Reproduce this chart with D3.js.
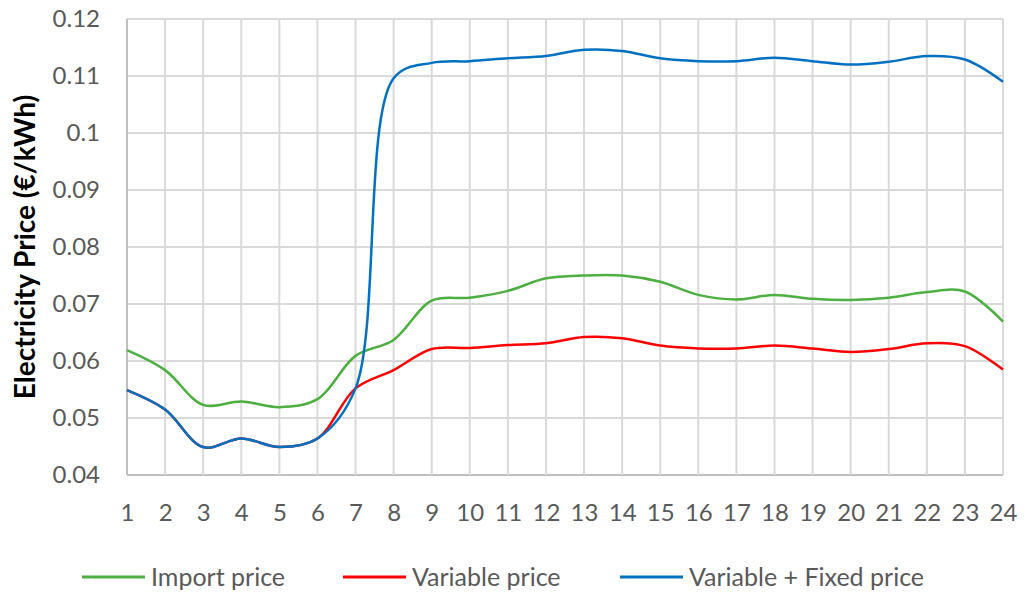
<!DOCTYPE html>
<html>
<head>
<meta charset="utf-8">
<script src="https://cdn.jsdelivr.net/npm/d3@7"></script>
<style>
  body { margin: 0; background: #fff; }
  text { font-family: Lato, "Open Sans", sans-serif; }
</style>
</head>
<body>
<svg id="chart" width="1024" height="603"></svg>
<script>
// hours of the day
const hours = d3.range(1, 25);
const yTicks = [0.04, 0.05, 0.06, 0.07, 0.08, 0.09, 0.1, 0.11, 0.12];

// prices in €/kWh
const importPrice = [0.0619, 0.0584, 0.0523, 0.0529, 0.0519, 0.0533, 0.0609, 0.0637, 0.0706, 0.0711,
    0.0723, 0.0745, 0.0750, 0.0750, 0.0739, 0.0716, 0.0708, 0.0716, 0.0709, 0.0707,
    0.0711, 0.0721, 0.0722, 0.0669];
const variablePrice = [0.0549, 0.0515, 0.0449, 0.0464, 0.0449, 0.0464, 0.0552, 0.0584, 0.0621, 0.0623,
    0.0628, 0.0631, 0.0642, 0.0640, 0.0627, 0.0622, 0.0622, 0.0627, 0.0622, 0.0616,
    0.0621, 0.0631, 0.0626, 0.0585];
const fixedPrice = [0.0549, 0.0515, 0.0449, 0.0464, 0.0449, 0.0464, 0.0552, 0.1096, 0.1123, 0.1126,
    0.1131, 0.1135, 0.1146, 0.1144, 0.1131, 0.1126, 0.1126, 0.1132, 0.1126, 0.1120,
    0.1125, 0.1135, 0.1129, 0.1090];

const series = [
    { name: 'Import price', color: '#4caf3f', values: importPrice },
    { name: 'Variable price', color: '#ff0000', values: variablePrice },
    { name: 'Variable + Fixed price', color: '#0070c0', values: fixedPrice }
];

const svg = d3.select('#chart');
const margin = { top: 19, right: 21, bottom: 128, left: 127 };
const width = 1024 - margin.left - margin.right;
const height = 603 - margin.top - margin.bottom;

const x = d3.scaleLinear().domain([1, 24]).range([0, width]);
const y = d3.scaleLinear().domain([0.04, 0.12]).range([height, 0]);

const g = svg.append('g').attr('transform', `translate(${margin.left},${margin.top})`);

// grid
g.append('g').selectAll('line').data(yTicks).enter().append('line')
    .attr('x1', 0).attr('x2', width)
    .attr('y1', d => y(d)).attr('y2', d => y(d))
    .attr('stroke', d => d === 0.04 ? '#bfbfbf' : '#d9d9d9').attr('stroke-width', 2);
g.append('g').selectAll('line').data(hours).enter().append('line')
    .attr('y1', 0).attr('y2', height)
    .attr('x1', d => x(d)).attr('x2', d => x(d))
    .attr('stroke', d => d === 1 ? '#bfbfbf' : '#d9d9d9').attr('stroke-width', 2);

// y axis labels
const yAxis = g.append('g')
    .call(d3.axisLeft(y).tickValues(yTicks).tickSize(0).tickPadding(27).tickFormat(d => String(+d.toFixed(2))));
yAxis.select('.domain').remove();
yAxis.selectAll('text').attr('font-size', 24).attr('fill', '#595959');

// x axis labels
const xAxis = g.append('g').attr('transform', `translate(0,${height})`)
    .call(d3.axisBottom(x).tickValues(hours).tickSize(0).tickPadding(29).tickFormat(d3.format('d')));
xAxis.select('.domain').remove();
xAxis.selectAll('text').attr('font-size', 24).attr('fill', '#595959');

// y title
svg.append('text')
    .attr('transform', `translate(25,${margin.top + height / 2}) rotate(-90)`)
    .attr('text-anchor', 'middle').attr('dy', '0.35em')
    .attr('font-size', 28).attr('font-weight', 'bold').attr('fill', '#000')
    .text('Electricity Price (€/kWh)');

// lines
const line = d3.line()
    .x((d, i) => x(hours[i]))
    .y(d => y(d))
    .curve(d3.curveCatmullRom.alpha(0.5));

g.selectAll('.series').data(series).enter().append('path')
    .attr('class', 'series')
    .attr('d', d => line(d.values))
    .attr('fill', 'none')
    .attr('stroke', d => d.color)
    .attr('stroke-width', 2.5);

// legend
const legendX = [82, 343, 620];
const legend = svg.append('g').attr('transform', 'translate(0,577)');
const items = legend.selectAll('g').data(series).enter().append('g')
    .attr('transform', (d, i) => `translate(${legendX[i]},0)`);
items.append('line')
    .attr('x1', 0).attr('x2', 63)
    .attr('stroke', d => d.color).attr('stroke-width', 3);
items.append('text')
    .attr('x', 69).attr('dy', '0.35em')
    .attr('font-size', 25).attr('fill', '#595959')
    .text(d => d.name);
</script>
</body>
</html>
